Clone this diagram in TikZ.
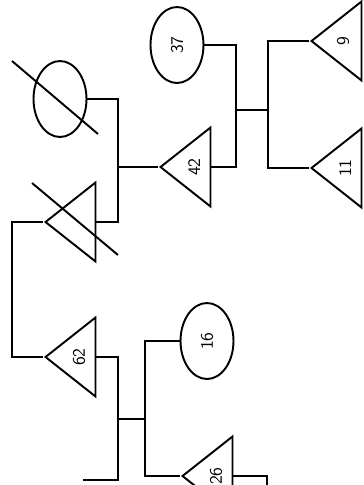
\documentclass[tikz,border=0pt]{standalone}
\usepackage{tikz}
\usetikzlibrary{shapes.geometric}

\begin{document}
\begin{tikzpicture}[x=0.02cm, y=-0.02cm,
  male/.style={draw, isosceles triangle, shape border rotate=180,
    isosceles triangle stretches, minimum width=1.58cm, minimum height=1.0cm,
    inner sep=0pt, anchor=apex, line width=1.1pt, font=\sffamily},
  female/.style={draw, ellipse, minimum width=1.06cm, minimum height=1.52cm,
    inner sep=0pt, line width=1.1pt, font=\sffamily},
  link/.style={line width=1.1pt},
  dead/.style={line width=1.1pt},
]
\useasboundingbox (0,0) rectangle (363,485);
\clip (0,0) rectangle (363,485);

% first generation
\node[female] (gm) at (60,99) {};
\node[male]   (gf) at (43,222) {};
\draw[dead] (12,61) -- (98,134);
\draw[dead] (32,183) -- (118,255);

% second generation
\node[male]   (t62) at (43,357) {\rotatebox{90}{62}};
\node[male]   (t42) at (158,167) {\rotatebox{90}{42}};
\node[female] (e37) at (177,45) {\rotatebox{90}{37}};

% third generation
\node[female] (e16) at (207,341) {\rotatebox{90}{16}};
\node[male]   (t26) at (180,476) {\rotatebox{90}{26}};
\node[male]   (t9)  at (309,41) {\rotatebox{90}{9}};
\node[male]   (t11) at (309,168) {\rotatebox{90}{11}};

% junctions
\coordinate (c1) at (118,167);
\coordinate (c2) at (118,419);
\coordinate (s2) at (145,419);
\coordinate (c3) at (236,110);
\coordinate (s3) at (268,110);
\coordinate (p62) at (83,480);
\coordinate (p26) at (267,490);

\draw[link] (gm.east) -| (c1) |- (gf.east);
\draw[link] (c1) -- (t42.apex);
\draw[link] (gf.apex) -- ++(-31,0) |- (t62.apex);

\draw[link] (t62.east) -| (c2) |- (p62);
\draw[link] (c2) -- (s2);
\draw[link] (e16.west) -| (s2) |- (t26.apex);
\draw[link] (t26.east) -| (p26);

\draw[link] (e37.east) -| (c3) |- (t42.east);
\draw[link] (c3) -- (s3);
\draw[link] (t9.apex) -| (s3) |- (t11.apex);

\end{tikzpicture}
\end{document}
